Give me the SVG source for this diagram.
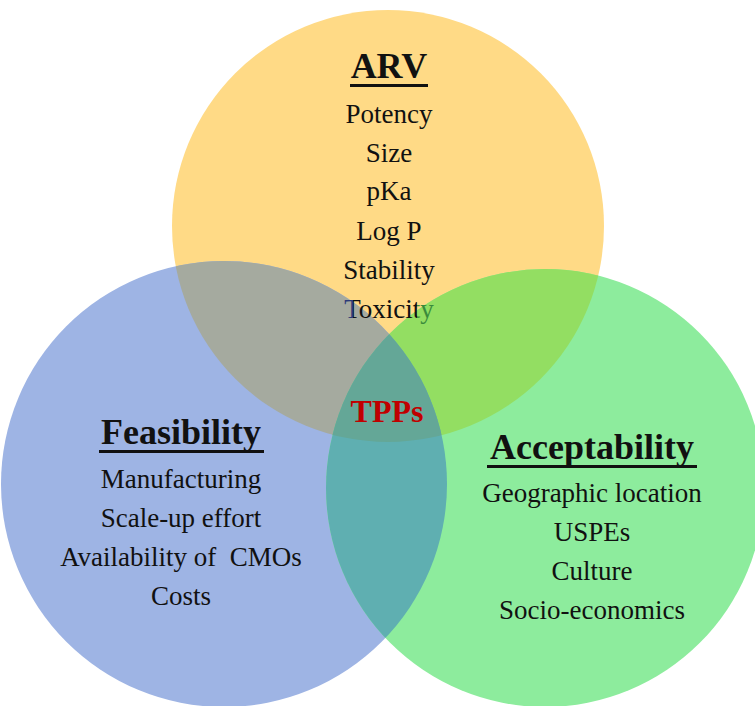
<svg xmlns="http://www.w3.org/2000/svg" width="755" height="706" viewBox="0 0 755 706">
  <style>
    .body { font-family: "Liberation Serif", "Times New Roman", serif; font-size: 27px; fill: #111; text-anchor: middle; }
    .head { font-family: "Liberation Serif", "Times New Roman", serif; font-size: 36px; font-weight: bold; fill: #111; text-anchor: middle; }
    .ul { fill: #111; }
    .tpps { font-family: "Liberation Serif", "Times New Roman", serif; font-size: 32px; font-weight: bold; fill: #C00000; text-anchor: middle; }
  </style>
  <defs>
    <clipPath id="clipY"><circle cx="388" cy="226" r="216"/></clipPath>
    <clipPath id="clipB"><circle cx="224" cy="484" r="223"/></clipPath>
    <clipPath id="clipG"><circle cx="545" cy="488" r="219"/></clipPath>
    <linearGradient id="toxFill" gradientUnits="userSpaceOnUse" x1="344" y1="0" x2="434" y2="0">
      <stop offset="0" stop-color="#2b3a78"/>
      <stop offset="0.1" stop-color="#2b3a78"/>
      <stop offset="0.1" stop-color="#111"/>
      <stop offset="0.81" stop-color="#111"/>
      <stop offset="0.81" stop-color="#3a8a3c"/>
      <stop offset="1" stop-color="#3a8a3c"/>
    </linearGradient>
  </defs>
  <rect width="755" height="706" fill="#ffffff"/>
  <g id="venn-shapes">
    <circle id="circle-arv" cx="388" cy="226" r="216" fill="#FFDA86"/>
    <circle id="circle-feasibility" cx="224" cy="484" r="223" fill="#9EB4E4"/>
    <circle id="circle-acceptability" cx="545" cy="488" r="219" fill="#8DEC9D"/>
    <g clip-path="url(#clipB)"><circle cx="388" cy="226" r="216" fill="#A5AA9F"/></g>
    <g clip-path="url(#clipG)"><circle cx="388" cy="226" r="216" fill="#93DE62"/></g>
    <g clip-path="url(#clipG)"><circle cx="224" cy="484" r="223" fill="#5FAFB1"/></g>
    <g clip-path="url(#clipG)"><g clip-path="url(#clipB)"><circle cx="388" cy="226" r="216" fill="#64A797"/></g></g>
  </g>
  <g id="arv">
    <text class="head" x="389" y="78">ARV</text>
    <rect class="ul" x="350" y="84" width="78" height="3"/>
    <text class="body" x="389" y="123">Potency</text>
    <text class="body" x="389" y="162">Size</text>
    <text class="body" x="389" y="200">pKa</text>
    <text class="body" x="389" y="240">Log P</text>
    <text class="body" x="389" y="279">Stability</text>
    <text class="body" x="389" y="318" style="fill:url(#toxFill)">Toxicity</text>
  </g>
  <g id="tpps">
    <text class="tpps" x="387" y="422">TPPs</text>
  </g>
  <g id="feasibility">
    <text class="head" x="181" y="444">Feasibility</text>
    <rect class="ul" x="99" y="450" width="165" height="3"/>
    <text class="body" x="181" y="488">Manufacturing</text>
    <text class="body" x="181" y="527">Scale-up effort</text>
    <text class="body" x="181" y="566" xml:space="preserve">Availability of  CMOs</text>
    <text class="body" x="181" y="605">Costs</text>
  </g>
  <g id="acceptability">
    <text class="head" x="592" y="459">Acceptability</text>
    <rect class="ul" x="487" y="465" width="210" height="3"/>
    <text class="body" x="592" y="502">Geographic location</text>
    <text class="body" x="592" y="541">USPEs</text>
    <text class="body" x="592" y="580">Culture</text>
    <text class="body" x="592" y="619">Socio-economics</text>
  </g>
</svg>
